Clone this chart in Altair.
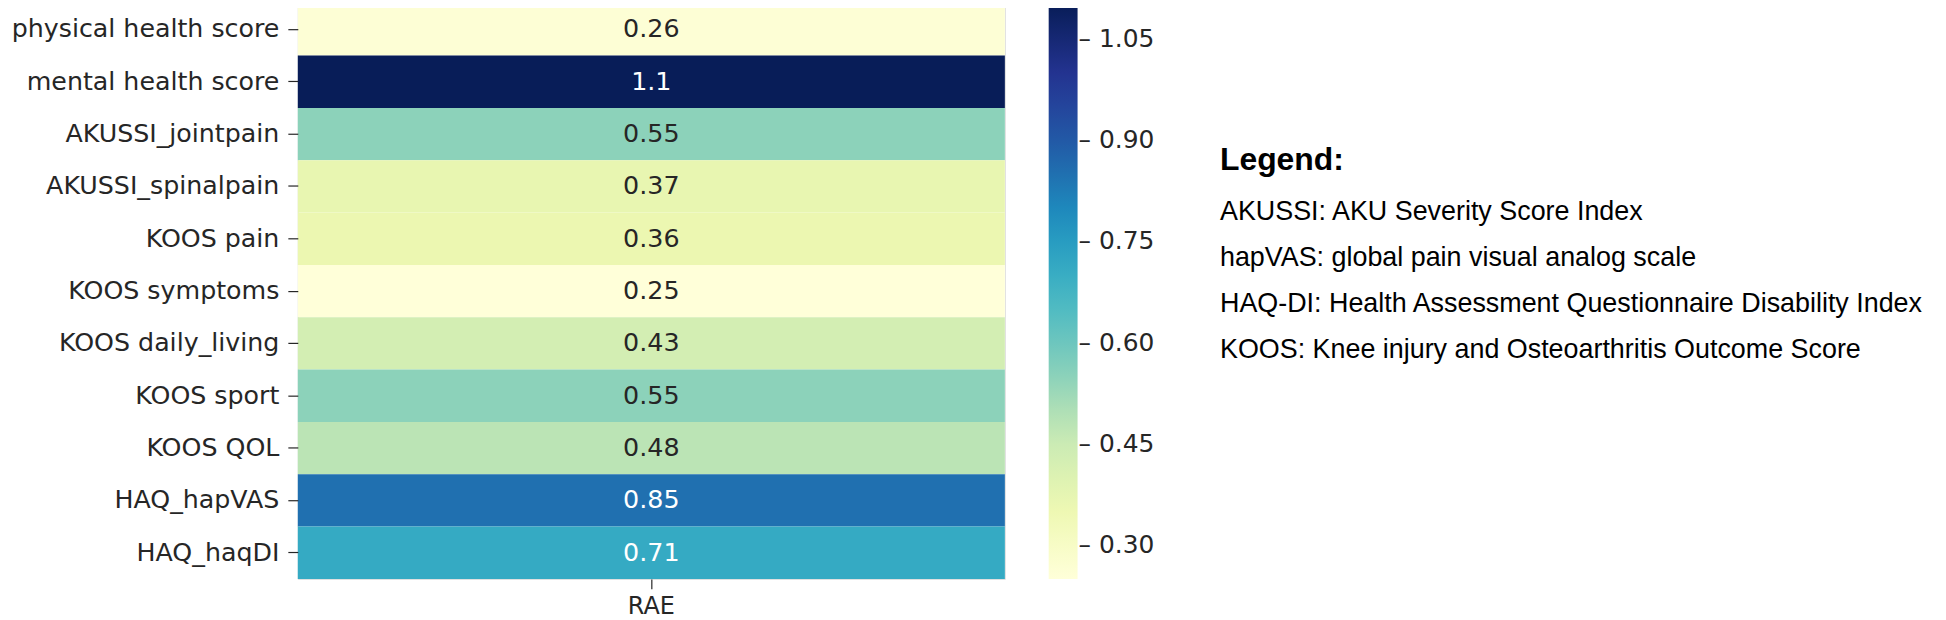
import altair as alt
import pandas as pd

# ---- data ----
categories = [
    "physical health score",
    "mental health score",
    "AKUSSI_jointpain",
    "AKUSSI_spinalpain",
    "KOOS pain",
    "KOOS symptoms",
    "KOOS daily_living",
    "KOOS sport",
    "KOOS QOL",
    "HAQ_hapVAS",
    "HAQ_haqDI",
]
rae_values = [0.26, 1.1, 0.55, 0.37, 0.36, 0.25, 0.43, 0.55, 0.48, 0.85, 0.71]
column_name = "RAE"
colorbar_ticks = [0.30, 0.45, 0.60, 0.75, 0.90, 1.05]
# YlGnBu colour stops spread evenly over the colour range 0.25 .. 1.10
color_stops = [0.25, 0.35625, 0.4625, 0.56875, 0.675, 0.78125, 0.8875, 0.99375, 1.10]
color_range = ["#ffffd9", "#edf8b1", "#c7e9b4", "#7fcdbb", "#41b6c4",
               "#1d91c0", "#225ea8", "#253494", "#081d58"]
legend_heading = "Legend:"
legend_lines = [
    "AKUSSI: AKU Severity Score Index",
    "hapVAS: global pain visual analog scale",
    "HAQ-DI: Health Assessment Questionnaire Disability Index",
    "KOOS: Knee injury and Osteoarthritis Outcome Score",
]

df = pd.DataFrame({
    "metric": categories,
    "column": [column_name] * len(categories),
    "value": rae_values,
    "label": [f"{v:.2g}" for v in rae_values],
})

FONT = "DejaVu Sans"
TXT = "#262626"

base = alt.Chart(df).encode(
    x=alt.X(
        "column:N",
        title=None,
        scale=alt.Scale(paddingInner=0, paddingOuter=0),
        axis=alt.Axis(
            labelAngle=0, domain=False, tickSize=10, tickColor=TXT, tickWidth=1.2,
            labelFont=FONT, labelFontSize=24, labelColor=TXT, labelPadding=6,
        ),
    ),
    y=alt.Y(
        "metric:N",
        sort=categories,
        title=None,
        scale=alt.Scale(paddingInner=0, paddingOuter=0),
        axis=alt.Axis(
            domain=False, tickSize=10, tickColor=TXT, tickWidth=1.2,
            labelFont=FONT, labelFontSize=25.4, labelColor=TXT, labelPadding=9,
            labelLimit=400,
        ),
    ),
)

rect = base.mark_rect().encode(
    color=alt.Color(
        "value:Q",
        scale=alt.Scale(domain=color_stops, range=color_range,
                        interpolate="rgb", clamp=True),
        legend=alt.Legend(
            title=None,
            orient="none",
            legendX=754,
            legendY=2,
            direction="vertical",
            gradientLength=576,
            gradientThickness=29,
            gradientStrokeWidth=0,
            values=colorbar_ticks,
            labelExpr="'\u2013 ' + format(datum.value, '.2f')",
            labelFont=FONT,
            labelFontSize=25,
            labelColor=TXT,
            labelOffset=1,
            labelOverlap=False,
        ),
    )
)

text = base.mark_text(font=FONT, fontSize=25.5).encode(
    text="label:N",
    color=alt.condition(alt.datum.value > 0.6, alt.value("white"), alt.value(TXT)),
)

chart = (
    alt.layer(rect, text)
    .properties(
        width=710,
        height=578,
        autosize=alt.AutoSizeParams(type="none"),
        padding={"left": 291, "top": -6, "right": 937, "bottom": 40},
        title=alt.TitleParams(
            text=legend_heading,
            subtitle=legend_lines,
            anchor="start",
            frame="group",
            orient="top",
            offset=0,
            dx=926,
            dy=362,
            font="Liberation Sans",
            fontSize=32,
            fontWeight="bold",
            color="black",
            subtitleFont="Liberation Sans",
            subtitleFontSize=27,
            subtitleColor="black",
            subtitleLineHeight=46,
            subtitlePadding=23,
        ),
    )
    .configure_view(stroke=None)
    .configure(background="white")
)

chart.save("out.html", embed_options={"renderer": "svg", "actions": False})
